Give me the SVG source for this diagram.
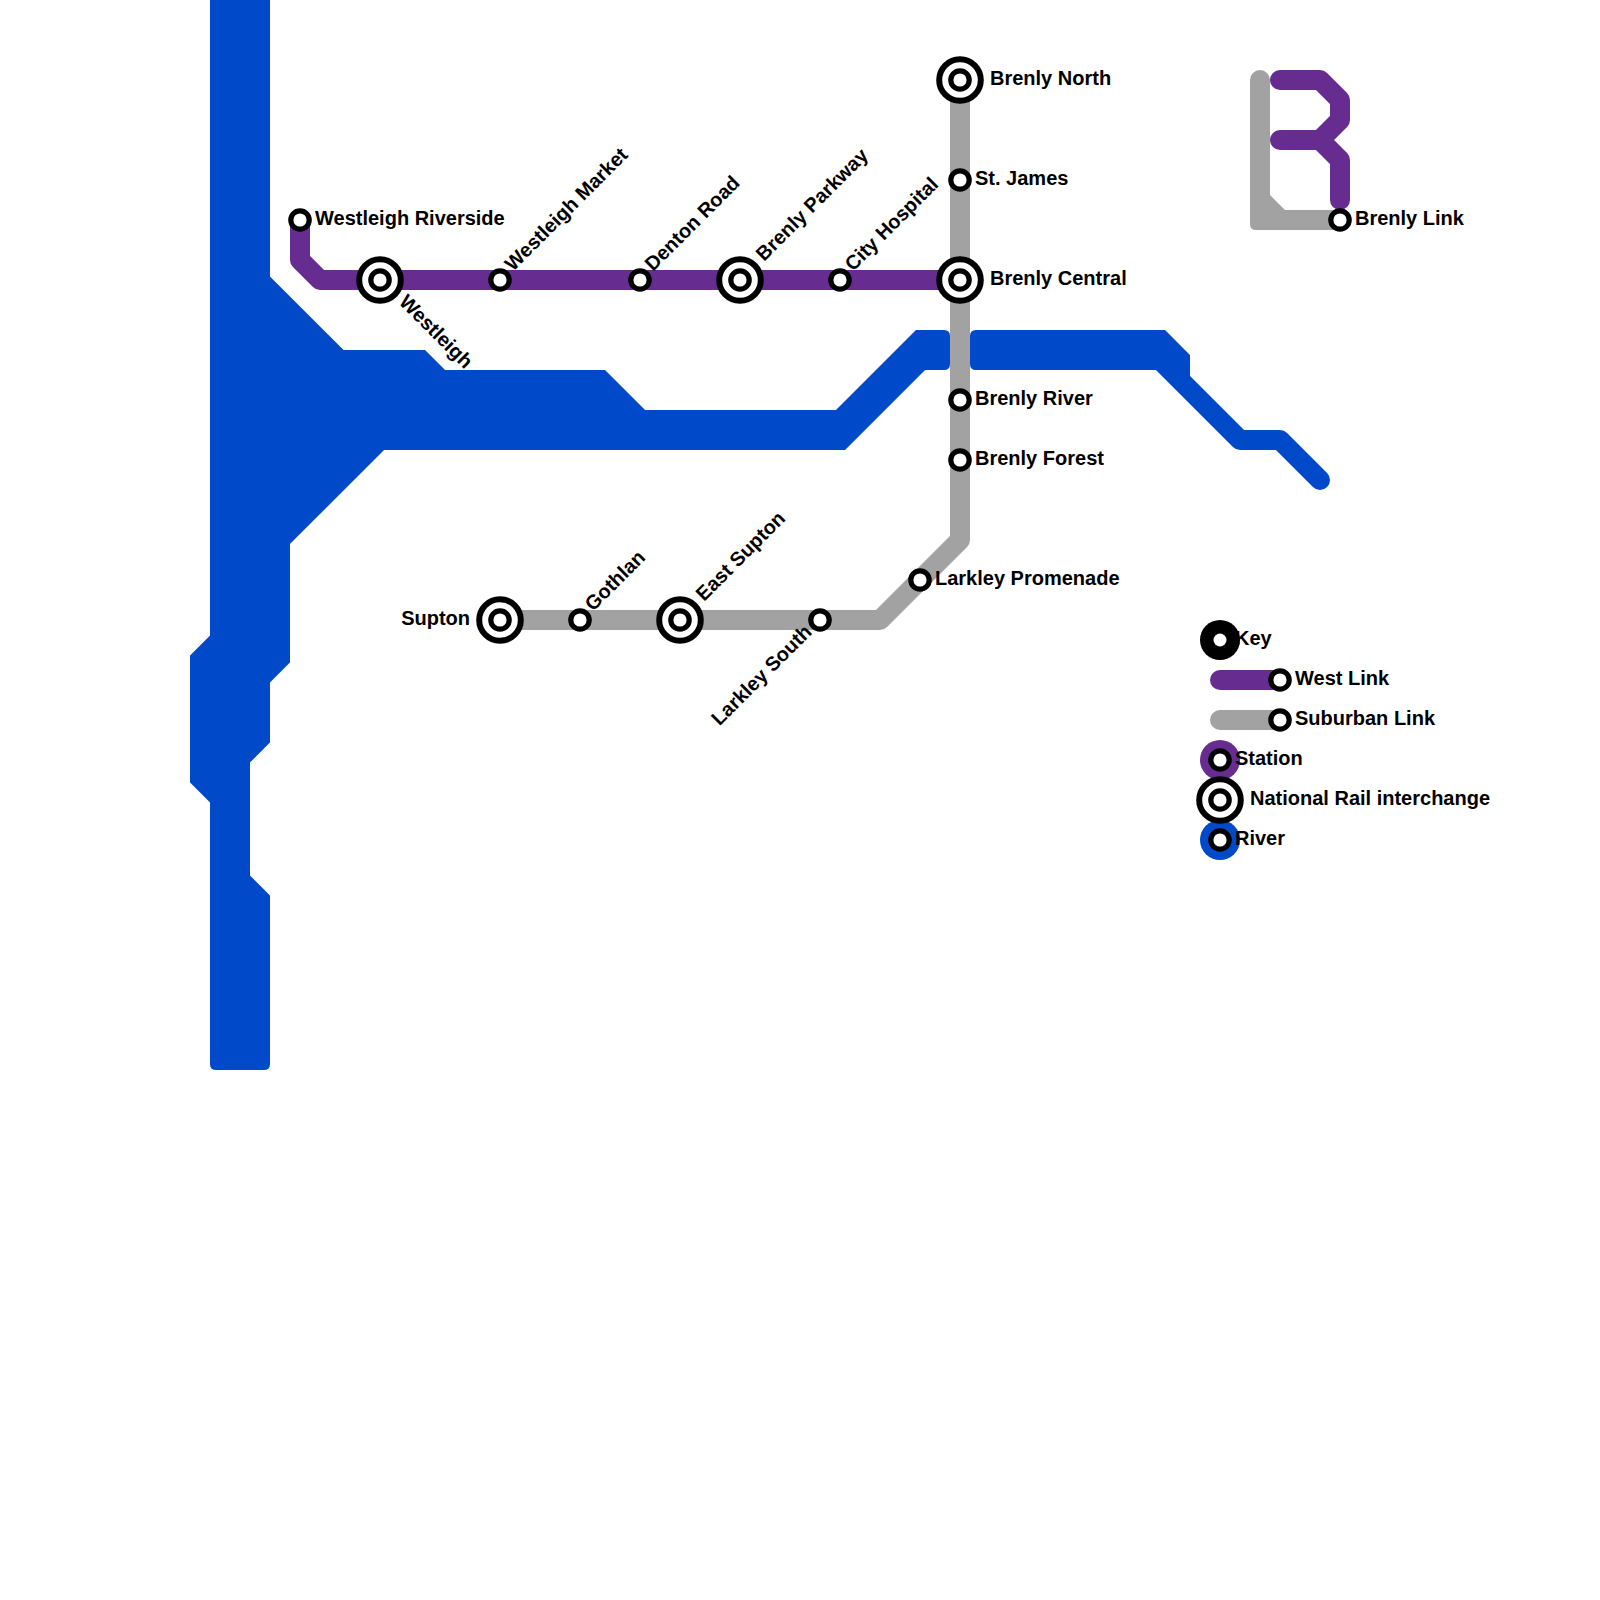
<svg xmlns="http://www.w3.org/2000/svg" width="1600" height="1600" viewBox="0 0 1600 1600">
<style>
.ln{fill:none;stroke-width:20;stroke-linecap:round;stroke-linejoin:round}
.p{stroke:#662c90}.g{stroke:#a2a2a2}.b{stroke:#004ac9}
.river{fill:#004ac9;stroke:#004ac9;stroke-width:2;stroke-linejoin:round}
.st{fill:#fff;stroke:#000;stroke-width:5.2}
.ring{fill:#fff;stroke:#000;stroke-width:6}
text{font-family:"Liberation Sans",Arial,sans-serif;font-size:20px;font-weight:bold;fill:#000}
</style>
<g id="connectors">
<path id="river-west" class="river" d="M211 0V636L191 656V782L211 802V1064Q211 1069 216 1069H264Q269 1069 269 1064V896L249 876V762L269 742V682L289 662V543.6L383.6 449H844.6L924.6 369H944Q949 369 949 364V336Q949 331 944 331H916.4L836.4 411H644.6L604.6 371H444.6L424.6 351H343.1L269 276.9V0Z"/>
<path id="river-east" class="river" d="M976 331Q971 331 971 336V364Q971 369 976 369H1160L1189 390V355.4L1164.6 331Z"/>
<path id="river-east-tail" class="ln b" d="M1150 350L1240 440H1280L1320 480"/>
<path id="west-link" class="ln p" d="M300 220V260L320 280H960"/>
<path id="suburban-link" class="ln g" d="M960 80V540L880 620H500"/>
<path id="brenly-link-grey" class="ln g" d="M1260 80V200L1280 220H1340"/>
<path id="brenly-link-corner" d="M1250 190V224Q1250 230 1256 230H1290V210H1285L1270 195V190Z" fill="#a2a2a2"/>
<path id="brenly-link-purple" class="ln p" d="M1280 80H1320L1340 100V120L1320 140H1280M1320 140L1340 160V200"/>
</g>
<g id="westleigh-riverside"><circle class="st" cx="300" cy="220" r="9.2"/><text x="315" y="225">Westleigh Riverside</text></g>
<g id="westleigh"><circle class="ring" cx="380" cy="280" r="20.8"/><circle class="st" cx="380" cy="280" r="9.2"/><text transform="translate(398 303) rotate(45)">Westleigh</text></g>
<g id="westleigh-market"><circle class="st" cx="500" cy="280" r="9.2"/><text transform="translate(513 272) rotate(-45)">Westleigh Market</text></g>
<g id="denton-road"><circle class="st" cx="640" cy="280" r="9.2"/><text transform="translate(653 272) rotate(-45)">Denton Road</text></g>
<g id="brenly-parkway"><circle class="ring" cx="740" cy="280" r="20.8"/><circle class="st" cx="740" cy="280" r="9.2"/><text transform="translate(764 262) rotate(-45)">Brenly Parkway</text></g>
<g id="city-hospital"><circle class="st" cx="840" cy="280" r="9.2"/><text transform="translate(853 272) rotate(-45)">City Hospital</text></g>
<g id="brenly-north"><circle class="ring" cx="960" cy="80" r="20.8"/><circle class="st" cx="960" cy="80" r="9.2"/><text x="990" y="85">Brenly North</text></g>
<g id="st-james"><circle class="st" cx="960" cy="180" r="9.2"/><text x="975" y="185">St. James</text></g>
<g id="brenly-central"><circle class="ring" cx="960" cy="280" r="20.8"/><circle class="st" cx="960" cy="280" r="9.2"/><text x="990" y="285">Brenly Central</text></g>
<g id="brenly-river"><circle class="st" cx="960" cy="400" r="9.2"/><text x="975" y="405">Brenly River</text></g>
<g id="brenly-forest"><circle class="st" cx="960" cy="460" r="9.2"/><text x="975" y="465">Brenly Forest</text></g>
<g id="larkley-promenade"><circle class="st" cx="920" cy="580" r="9.2"/><text x="935" y="585">Larkley Promenade</text></g>
<g id="larkley-south"><circle class="st" cx="820" cy="620" r="9.2"/><text text-anchor="end" transform="translate(813 633) rotate(-45)">Larkley South</text></g>
<g id="east-supton"><circle class="ring" cx="680" cy="620" r="20.8"/><circle class="st" cx="680" cy="620" r="9.2"/><text transform="translate(704 602) rotate(-45)">East Supton</text></g>
<g id="gothlan"><circle class="st" cx="580" cy="620" r="9.2"/><text transform="translate(593 612) rotate(-45)">Gothlan</text></g>
<g id="supton"><circle class="ring" cx="500" cy="620" r="20.8"/><circle class="st" cx="500" cy="620" r="9.2"/><text x="470" y="625" text-anchor="end">Supton</text></g>
<g id="brenly-link"><circle class="st" cx="1340" cy="220" r="9.2"/><text x="1355" y="225">Brenly Link</text></g>
<g id="legend">
<circle cx="1220" cy="640" r="20" fill="#000"/><circle cx="1220" cy="640" r="6.5" fill="#fff"/>
<text x="1235" y="645">Key</text>
<path class="ln p" d="M1220 680H1280"/><circle class="st" cx="1280" cy="680" r="9.2"/><text x="1295" y="685">West Link</text>
<path class="ln g" d="M1220 720H1280"/><circle class="st" cx="1280" cy="720" r="9.2"/><text x="1295" y="725">Suburban Link</text>
<circle cx="1220" cy="760" r="20" fill="#662c90"/><circle class="st" cx="1220" cy="760" r="9.2"/><text x="1235" y="765">Station</text>
<circle cx="1220" cy="840" r="20" fill="#004ac9"/><circle class="st" cx="1220" cy="840" r="9.2"/><text x="1235" y="845">River</text>
<circle class="ring" cx="1220" cy="800" r="20.8"/><circle class="st" cx="1220" cy="800" r="9.2"/><text x="1250" y="805">National Rail interchange</text>
</g>
</svg>
